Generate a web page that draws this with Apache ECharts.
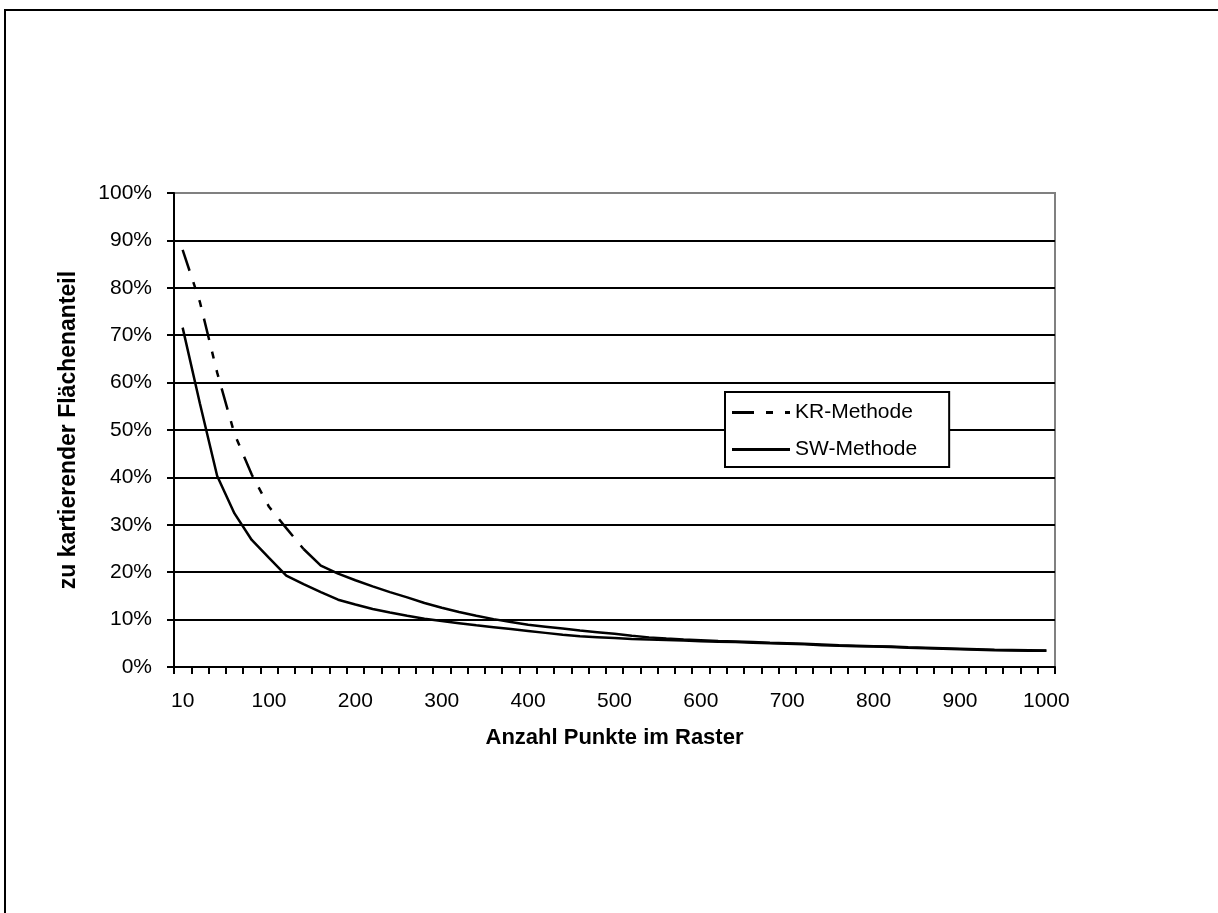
<!DOCTYPE html>
<html>
<head>
<meta charset="utf-8">
<script src="https://cdn.jsdelivr.net/npm/echarts@6/dist/echarts.min.js"></script>
<style>
html, body { margin: 0; padding: 0; background: #fff; }
#chart { width: 1218px; height: 913px; }
</style>
</head>
<body>
<div id="chart"></div>
<script>
// Anzahl Punkte im Raster (Kategorien)
var punkte = [10, 20, 40, 60, 80, 100, 120, 140, 160, 180, 200, 220, 240, 260, 280, 300, 320, 340, 360, 380,
    400, 420, 440, 460, 480, 500, 520, 540, 560, 580, 600, 620, 640, 660, 680, 700, 720, 740, 760, 780,
    800, 820, 840, 860, 880, 900, 920, 940, 960, 980, 1000];

// zu kartierender Flächenanteil in %
var krMethode = [88, 77, 62.1, 49.2, 40.6, 33.8, 29.3, 24.9, 21.4, 19.7, 18.3, 17.0, 15.8, 14.7, 13.5, 12.5,
    11.6, 10.8, 10.1, 9.5, 8.9, 8.5, 8.1, 7.7, 7.35, 7.0, 6.6, 6.25, 6.0, 5.8, 5.65, 5.5, 5.4, 5.25, 5.1,
    5.0, 4.9, 4.75, 4.6, 4.5, 4.4, 4.3, 4.15, 4.05, 3.95, 3.85, 3.75, 3.65, 3.6, 3.55, 3.5];
var swMethode = [71.6, 55.6, 40.3, 32.4, 26.8, 23.0, 19.3, 17.5, 15.8, 14.2, 13.2, 12.25, 11.5, 10.8, 10.2,
    9.7, 9.25, 8.8, 8.4, 8.0, 7.6, 7.2, 6.8, 6.5, 6.3, 6.1, 5.9, 5.8, 5.7, 5.6, 5.45, 5.35, 5.25, 5.1, 5.0,
    4.9, 4.8, 4.6, 4.5, 4.4, 4.3, 4.2, 4.05, 3.95, 3.85, 3.75, 3.65, 3.55, 3.5, 3.45, 3.45];

// the dash pattern only shows on the long, steep segments; the flat rest looks solid
var dashEnde = 7;
var krGestrichelt = krMethode.map(function (v, i) { return i <= dashEnde ? v : null; });
var krDurchgezogen = krMethode.map(function (v, i) { return i >= dashEnde ? v : null; });

var schrift = "'Liberation Sans', Arial, sans-serif";
var gitterFarben = ['#000', '#000', '#000', '#000', '#000', '#000', '#000', '#000', '#000', '#000', '#808080'];

// legend samples: long dash + two short dashes, and a plain line
var iconKR = 'path://M0,0h22v3h-22z M34,0h7v3h-7z M53,0h5v3h-5z';
var iconSW = 'path://M0,0h58v3h-58z';

var chart = echarts.init(document.getElementById('chart'));
var option = {
    animation: false,
    backgroundColor: '#fff',
    graphic: [{
        type: 'rect',
        silent: true,
        z: -10,
        shape: { x: 5, y: 10, width: 1400, height: 1100 },
        style: { fill: 'none', stroke: '#000', lineWidth: 2 }
    }],
    grid: {
        left: 174, right: 163, top: 193, bottom: 246,
        show: true,
        borderColor: '#808080',
        borderWidth: 2,
        backgroundColor: '#fff'
    },
    legend: {
        orient: 'vertical',
        left: 725,
        top: 392,
        data: [{ name: 'KR-Methode', icon: iconKR }, { name: 'SW-Methode', icon: iconSW }],
        itemWidth: 58,
        itemHeight: 3,
        itemGap: 16,
        padding: [10, 32, 7, 7],
        borderColor: '#000',
        borderWidth: 2,
        backgroundColor: '#fff',
        borderRadius: 0,
        itemStyle: { color: '#000', borderWidth: 0 },
        textStyle: { fontFamily: schrift, fontSize: 21, color: '#000' }
    },
    xAxis: {
        type: 'category',
        data: punkte,
        boundaryGap: true,
        name: 'Anzahl Punkte im Raster',
        nameLocation: 'middle',
        nameGap: 60,
        nameTextStyle: { fontFamily: schrift, fontSize: 22, fontWeight: 'bold', color: '#000' },
        axisLine: { lineStyle: { color: '#000', width: 2 } },
        axisTick: { show: true, interval: 0, length: 7, alignWithLabel: false, lineStyle: { color: '#000', width: 2 } },
        axisLabel: { interval: 4, margin: 24, fontFamily: schrift, fontSize: 21, color: '#000' },
        splitLine: { show: false }
    },
    yAxis: {
        type: 'value',
        min: 0,
        max: 100,
        interval: 10,
        name: 'zu kartierender Flächenanteil',
        nameLocation: 'middle',
        nameGap: 94,
        nameTextStyle: { fontFamily: schrift, fontSize: 23, fontWeight: 'bold', color: '#000' },
        axisLine: { show: true, lineStyle: { color: '#000', width: 2 } },
        axisTick: { show: true, length: 7, lineStyle: { color: '#000', width: 2 } },
        axisLabel: { formatter: '{value}%', margin: 22, fontFamily: schrift, fontSize: 21, color: '#000' },
        splitLine: { show: true, lineStyle: { color: gitterFarben, width: 2 } }
    },
    series: [{
        name: 'KR-Methode',
        type: 'line',
        data: krGestrichelt,
        symbol: 'none',
        itemStyle: { color: '#000' },
        lineStyle: { color: '#000', width: 2.5, type: [22, 12, 7, 12, 7, 12] }
    }, {
        name: 'KR-Methode (Fortsetzung)',
        type: 'line',
        data: krDurchgezogen,
        symbol: 'none',
        itemStyle: { color: '#000' },
        lineStyle: { color: '#000', width: 2.5 }
    }, {
        name: 'SW-Methode',
        type: 'line',
        data: swMethode,
        symbol: 'none',
        itemStyle: { color: '#000' },
        lineStyle: { color: '#000', width: 2.5 }
    }]
};
chart.setOption(option);
</script>
</body>
</html>
